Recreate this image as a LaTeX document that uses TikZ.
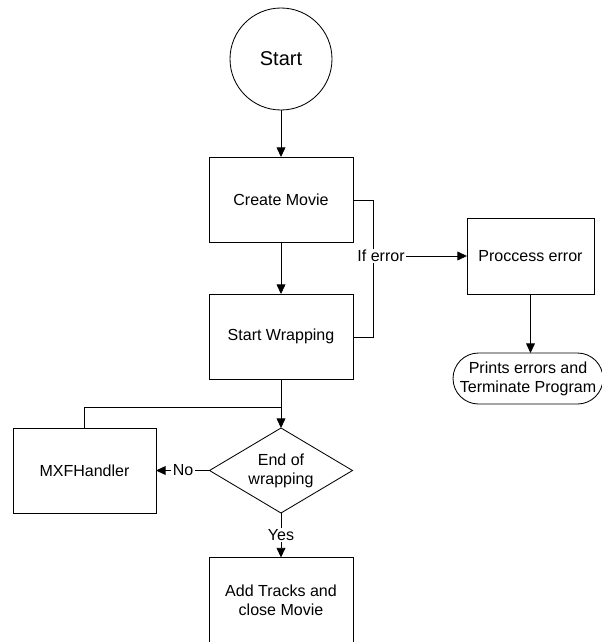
\documentclass[tikz,border=0pt]{standalone}
\usepackage{fontspec}
\setmainfont{Liberation Sans}
\usetikzlibrary{arrows.meta,shapes.geometric,shapes.misc}

\begin{document}
\begin{tikzpicture}[line width=0.6pt,
    every node/.style={inner sep=0,outer sep=0,font=\fontsize{11.4}{13.6}\selectfont},
    box/.style={draw,rectangle,minimum width=3.6cm,minimum height=2.125cm,align=center},
    arr/.style={-{Triangle[length=0.24cm,width=0.22cm]}}]
  \useasboundingbox (0,0) rectangle (15.025,-16.05);
  %% Main column.
  \node[circle,draw,minimum size=2.55cm,font=\fontsize{14.2}{16}\selectfont] (start) at (7.025,-1.475) {Start};
  \node[box] (create) at (7.025,-4.9875) {Create Movie};
  \node[box] (wrap) at (7.025,-8.4125) {Start Wrapping};
  \node[diamond,draw,aspect=1.68,minimum width=3.575cm,minimum height=2.125cm,align=center] (endwrap) at (7.025,-11.7625) {End of\\wrapping};
  \node[box] (tracks) at (7.025,-15.0) {Add Tracks and\\close Movie};
  %% Loop back on the left.
  \node[box,minimum width=3.575cm] (mxf) at (2.1125,-11.7625) {MXFHandler};
  \coordinate (join) at (7.025,-10.175);
  %% Error branch on the right.
  \node[box,minimum width=3.175cm,minimum height=1.9cm] (perr) at (13.2625,-6.4) {Proccess error};
  \node[rounded rectangle,draw,minimum width=3.75cm,minimum height=1.275cm,align=center] (term) at (13.2,-9.4625) {Prints errors and\\Terminate Program};
  \coordinate (e1) at (9.325,-5.0);
  \coordinate (e2) at (9.325,-8.425);

  \draw[arr] (start) -- (create);
  \draw[arr] (create) -- (wrap);
  \draw[arr] (wrap) -- (endwrap);
  \draw (mxf.north) |- (join);

  \draw (create.east |- e1) -- (e1) -- (e2) -- (wrap.east |- e2);
  \node[fill=white,inner sep=1pt] (iferr) at (9.525,-6.4) {If error};
  \draw[arr] (iferr) -- (perr);
  \draw[arr] (perr) -- (term.north -| perr.south);

  \node[fill=white,inner sep=1pt] (no) at (4.575,-11.7625) {No};
  \draw (endwrap) -- (no);
  \draw[arr] (no) -- (mxf);
  \node[fill=white,inner sep=1pt] (yes) at (7.025,-13.375) {Yes};
  \draw (endwrap) -- (yes);
  \draw[arr] (yes) -- (tracks);
\end{tikzpicture}
\end{document}
